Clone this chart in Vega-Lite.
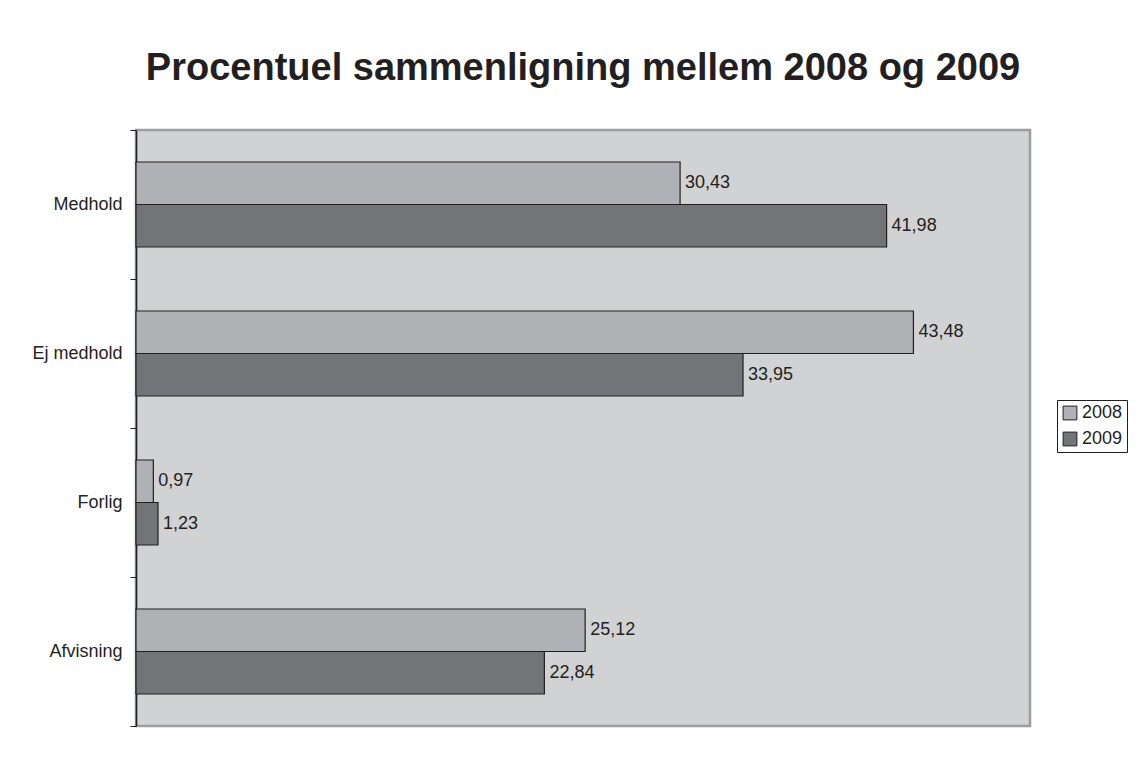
{
  "$schema": "https://vega.github.io/schema/vega-lite/v6.json",
  "width": 894,
  "height": 596,
  "autosize": {"type": "none"},
  "padding": {"left": 136, "top": 130, "right": 113, "bottom": 39},
  "background": "white",
  "config": {
    "locale": {"number": {"decimal": ",", "thousands": ".", "grouping": [3], "currency": ["", " kr."]}},
    "view": {"fill": "#d1d2d4", "stroke": "#9d9ea0", "strokeWidth": 2.5},
    "font": "Liberation Sans"
  },
  "title": {
    "text": "Procentuel sammenligning mellem 2008 og 2009",
    "fontSize": 38,
    "fontWeight": "bold",
    "font": "Liberation Sans",
    "color": "#231f20",
    "anchor": "middle",
    "offset": 3,
    "baseline": "alphabetic"
  },
  "data": {
    "values": [
      {"kategori": "Medhold", "aar": "2008", "pct": 30.43},
      {"kategori": "Medhold", "aar": "2009", "pct": 41.98},
      {"kategori": "Ej medhold", "aar": "2008", "pct": 43.48},
      {"kategori": "Ej medhold", "aar": "2009", "pct": 33.95},
      {"kategori": "Forlig", "aar": "2008", "pct": 0.97},
      {"kategori": "Forlig", "aar": "2009", "pct": 1.23},
      {"kategori": "Afvisning", "aar": "2008", "pct": 25.12},
      {"kategori": "Afvisning", "aar": "2009", "pct": 22.84}
    ]
  },
  "encoding": {
    "y": {
      "field": "kategori",
      "type": "nominal",
      "sort": ["Medhold", "Ej medhold", "Forlig", "Afvisning"],
      "scale": {"paddingInner": 0, "paddingOuter": 0},
      "axis": {
        "title": null,
        "grid": false,
        "domain": true,
        "domainColor": "#231f20",
        "domainWidth": 1.5,
        "ticks": true,
        "tickColor": "#231f20",
        "tickSize": 6,
        "tickWidth": 1,
        "tickBand": "extent",
        "labelFontSize": 18,
        "labelColor": "#231f20",
        "labelFont": "Liberation Sans",
        "labelPadding": 8
      }
    },
    "yOffset": {
      "field": "aar",
      "type": "nominal",
      "sort": ["2008", "2009"],
      "scale": {"paddingInner": 0, "paddingOuter": 0.753}
    },
    "x": {
      "field": "pct",
      "type": "quantitative",
      "scale": {"domain": [0, 50], "nice": false},
      "axis": null
    }
  },
  "layer": [
    {
      "mark": {"type": "bar", "stroke": "#231f20", "strokeWidth": 1.2},
      "encoding": {
        "color": {
          "field": "aar",
          "type": "nominal",
          "scale": {"domain": ["2008", "2009"], "range": ["#b0b1b4", "#737477"]},
          "legend": {
            "title": null,
            "orient": "none",
            "legendX": 921,
            "legendY": 270,
            "symbolType": "square",
            "symbolSize": 190,
            "symbolStrokeColor": "#231f20",
            "symbolStrokeWidth": 1,
            "symbolOpacity": 1,
            "labelFontSize": 18,
            "labelColor": "#231f20",
            "labelFont": "Liberation Sans",
            "labelOffset": 3,
            "strokeColor": "#231f20",
            "fillColor": "white",
            "padding": 4,
            "rowPadding": 8
          }
        }
      }
    },
    {
      "mark": {"type": "text", "align": "left", "baseline": "middle", "dx": 5, "fontSize": 18, "color": "#231f20", "font": "Liberation Sans"},
      "encoding": {
        "text": {"field": "pct", "type": "quantitative", "format": ".2f"}
      }
    }
  ]
}
